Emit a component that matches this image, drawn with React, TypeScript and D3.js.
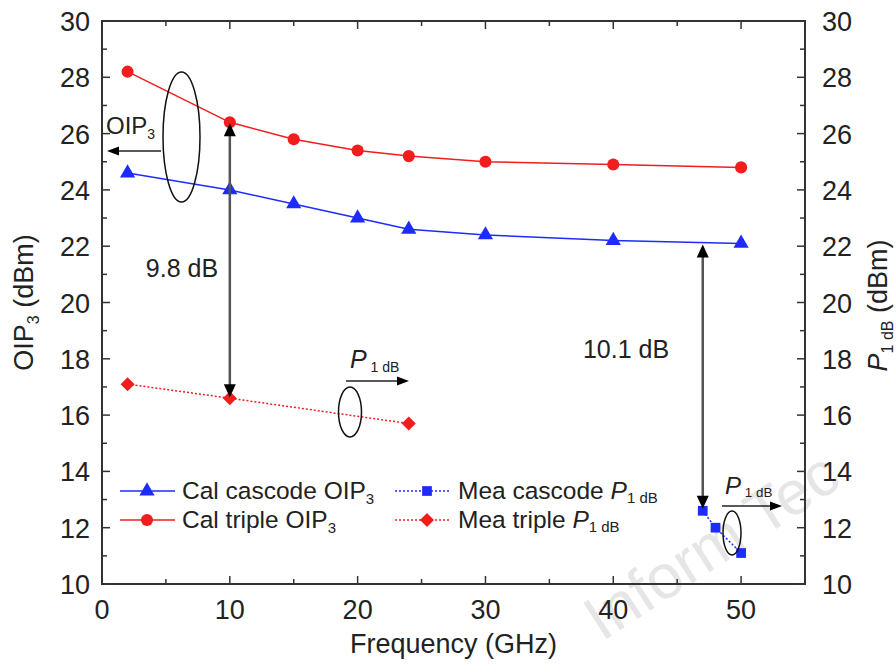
import React from "react";
import * as d3 from "d3";

const calCascodeFreq = [2, 10, 15, 20, 24, 30, 40, 50];
const calCascodeOIP3 = [24.6, 24.0, 23.5, 23.0, 22.6, 22.4, 22.2, 22.1];
const calTripleFreq = [2, 10, 15, 20, 24, 30, 40, 50];
const calTripleOIP3 = [28.2, 26.4, 25.8, 25.4, 25.2, 25.0, 24.9, 24.8];
const meaCascodeFreq = [47, 48, 50];
const meaCascodeP1dB = [12.6, 12.0, 11.1];
const meaTripleFreq = [2, 10, 24];
const meaTripleP1dB = [17.1, 16.6, 15.7];

const xTicks = [0, 10, 20, 30, 40, 50];
const yTicks = [10, 12, 14, 16, 18, 20, 22, 24, 26, 28, 30];

const RED = "#f21d1d";
const BLUE = "#1e2bff";
const AX = "#333";
const FONT = "Liberation Sans, Arial, sans-serif";

export default function App() {
  const W = 896, H = 665;
  const L = 102, R = 805, T = 21, B = 584;
  const x = d3.scaleLinear().domain([0, 55]).range([L, R]);
  const y = d3.scaleLinear().domain([10, 30]).range([B, T]);
  const line = d3.line<[number, number]>().x(d => x(d[0])).y(d => y(d[1]));
  const zip = (a: number[], b: number[]) => a.map((v, i) => [v, b[i]] as [number, number]);

  const tri = d3.symbol().type(d3.symbolTriangle).size(100)() as string;
  const circ = d3.symbol().type(d3.symbolCircle).size(115)() as string;
  const sq = d3.symbol().type(d3.symbolSquare).size(95)() as string;
  const dia = "M0,-7L7,0L0,7L-7,0Z";

  const minorX = d3.range(0, 56, 5);
  const minorY = d3.range(10, 31, 1);

  const head = (px: number, py: number, dir: "up" | "down" | "left" | "right", w = 6, h = 13) => {
    let pts: number[][];
    if (dir === "up") pts = [[px, py], [px - w, py + h], [px + w, py + h]];
    else if (dir === "down") pts = [[px, py], [px - w, py - h], [px + w, py - h]];
    else if (dir === "left") pts = [[px, py], [px + h, py - w], [px + h, py + w]];
    else pts = [[px, py], [px - h, py - w], [px - h, py + w]];
    return <polygon points={pts.map(p => p.join(",")).join(" ")} fill="#000" />;
  };

  const p1 = (px: number, py: number, size: number) => (
    <text x={px} y={py} fontSize={size} fill="#222" fontFamily={FONT}>
      <tspan fontStyle="italic">P</tspan>
      <tspan fontSize={size * 0.56} dy={size * 0.14}>{" 1 dB"}</tspan>
    </text>
  );

  const series = [
    { f: calCascodeFreq, v: calCascodeOIP3, c: BLUE, m: tri, dash: undefined },
    { f: calTripleFreq, v: calTripleOIP3, c: RED, m: circ, dash: undefined },
    { f: meaCascodeFreq, v: meaCascodeP1dB, c: BLUE, m: sq, dash: "2,2" },
    { f: meaTripleFreq, v: meaTripleP1dB, c: RED, m: dia, dash: "2,2" },
  ];

  const TF = 27;

  return (
    <svg width={W} height={H} style={{ position: "absolute", left: 0, top: 0 }}>
      <rect width={W} height={H} fill="#fff" />
      {/* watermark */}
      <text x={602} y={642} fontSize={62} fill="#e6e6e6" fontFamily={FONT}
        transform="rotate(-33 602 642)">Inform Tec</text>

      {/* frame */}
      <rect x={L} y={T} width={R - L} height={B - T} fill="none" stroke={AX} strokeWidth={2} />
      {minorX.map(t => {
        const len = t % 10 === 0 ? 8 : 5;
        return (
          <g key={"x" + t}>
            <line x1={x(t)} x2={x(t)} y1={B} y2={B - len} stroke={AX} strokeWidth={1.5} />
            <line x1={x(t)} x2={x(t)} y1={T} y2={T + len} stroke={AX} strokeWidth={1.5} />
          </g>
        );
      })}
      {minorY.map(t => {
        const len = t % 2 === 0 ? 8 : 5;
        return (
          <g key={"y" + t}>
            <line x1={L} x2={L + len} y1={y(t)} y2={y(t)} stroke={AX} strokeWidth={1.5} />
            <line x1={R} x2={R - len} y1={y(t)} y2={y(t)} stroke={AX} strokeWidth={1.5} />
          </g>
        );
      })}
      {xTicks.map(t => (
        <text key={"xl" + t} x={x(t)} y={619} fontSize={TF} textAnchor="middle" fill="#222" fontFamily={FONT}>{t}</text>
      ))}
      {yTicks.map(t => (
        <g key={"yl" + t}>
          <text x={L - 12} y={y(t) + 10} fontSize={TF} textAnchor="end" fill="#222" fontFamily={FONT}>{t}</text>
          <text x={R + 17} y={y(t) + 10} fontSize={TF} textAnchor="start" fill="#222" fontFamily={FONT}>{t}</text>
        </g>
      ))}
      <text x={(L + R) / 2} y={653} fontSize={TF} textAnchor="middle" fill="#222" fontFamily={FONT}>Frequency (GHz)</text>
      <text transform={`translate(33 ${(T + B) / 2}) rotate(-90)`} fontSize={TF} textAnchor="middle" fill="#222" fontFamily={FONT}>
        OIP<tspan fontSize={16} dy={6}>3</tspan><tspan dy={-6}> (dBm)</tspan>
      </text>
      <text transform={`translate(887 ${(T + B) / 2 + 3}) rotate(-90)`} fontSize={TF} textAnchor="middle" fill="#222" fontFamily={FONT}>
        <tspan fontStyle="italic">P</tspan><tspan fontSize={16} dy={6}>1 dB</tspan><tspan dy={-6}> (dBm)</tspan>
      </text>

      {/* series */}
      {series.map((s, i) => (
        <g key={"s" + i}>
          <path d={line(zip(s.f, s.v)) as string} fill="none" stroke={s.c} strokeWidth={1.5} strokeDasharray={s.dash} />
          {s.f.map((f, j) => (
            <path key={j} d={s.m} transform={`translate(${x(f)} ${y(s.v[j])})`} fill={s.c} />
          ))}
        </g>
      ))}

      {/* OIP3 annotation */}
      <ellipse cx={181.5} cy={137} rx={18.5} ry={65} fill="none" stroke="#111" strokeWidth={1.5} />
      <line x1={161} x2={118} y1={151} y2={151} stroke="#222" strokeWidth={1.5} />
      {head(107, 151, "left", 4.5, 12)}
      <text x={106} y={134} fontSize={24} fill="#222" fontFamily={FONT}>
        OIP<tspan fontSize={14} dy={5}>3</tspan>
      </text>

      {/* 9.8 dB arrow */}
      <line x1={x(10)} x2={x(10)} y1={y(26.4) + 10} y2={y(16.6) - 10} stroke="#555" strokeWidth={2.5} />
      {head(x(10), y(26.4) + 1, "up")}
      {head(x(10), y(16.6) - 1, "down")}
      <text x={182} y={277} fontSize={25} textAnchor="middle" fill="#222" fontFamily={FONT}>9.8 dB</text>

      {/* 10.1 dB arrow */}
      <line x1={x(47)} x2={x(47)} y1={y(22.1) + 10} y2={y(12.6) - 10} stroke="#555" strokeWidth={2.5} />
      {head(x(47), y(22.1) + 1, "up")}
      {head(x(47), y(12.6) - 2, "down")}
      <text x={626} y={358} fontSize={25} textAnchor="middle" fill="#222" fontFamily={FONT}>10.1 dB</text>

      {/* mid P1dB annotation */}
      <ellipse cx={350} cy={412} rx={11.5} ry={25} fill="none" stroke="#111" strokeWidth={1.5} />
      <line x1={346} x2={398} y1={381} y2={381} stroke="#222" strokeWidth={1.5} />
      {head(409, 381, "right", 4.5, 12)}
      {p1(350, 368, 25)}

      {/* right P1dB annotation */}
      <ellipse cx={732} cy={533} rx={9} ry={22} fill="none" stroke="#111" strokeWidth={1.5} />
      <line x1={722} x2={772} y1={506} y2={506} stroke="#222" strokeWidth={1.5} />
      {head(782, 506, "right", 4.5, 12)}
      {p1(725, 494, 24)}

      {/* legend */}
      <g fontFamily={FONT} fontSize={24.5} fill="#222">
        <line x1={120} x2={175} y1={491} y2={491} stroke={BLUE} strokeWidth={1.5} />
        <path d={tri} transform={`translate(147 491)`} fill={BLUE} />
        <text x={182} y={499}>Cal cascode OIP<tspan fontSize={15} dy={5}>3</tspan></text>
        <line x1={120} x2={175} y1={520} y2={520} stroke={RED} strokeWidth={1.5} />
        <path d={circ} transform={`translate(147 520)`} fill={RED} />
        <text x={182} y={528}>Cal triple OIP<tspan fontSize={15} dy={5}>3</tspan></text>

        <line x1={395} x2={450} y1={491} y2={491} stroke={BLUE} strokeWidth={1.5} strokeDasharray="2,2" />
        <path d={sq} transform={`translate(427 491)`} fill={BLUE} />
        <text x={458} y={499}>Mea cascode <tspan fontStyle="italic">P</tspan><tspan fontSize={15} dy={4}>1 dB</tspan></text>
        <line x1={395} x2={450} y1={520} y2={520} stroke={RED} strokeWidth={1.5} strokeDasharray="2,2" />
        <path d={dia} transform={`translate(427 520)`} fill={RED} />
        <text x={458} y={528}>Mea triple <tspan fontStyle="italic">P</tspan><tspan fontSize={15} dy={4}>1 dB</tspan></text>
      </g>
    </svg>
  );
}
